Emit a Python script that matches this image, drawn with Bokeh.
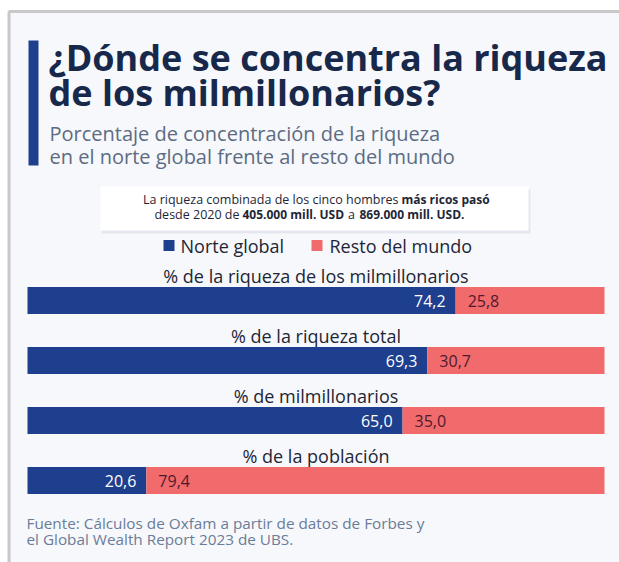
from bokeh.plotting import figure
from bokeh.models import Range1d, ColumnDataSource
from bokeh.core.properties import value
from bokeh.embed import file_html
from bokeh.resources import INLINE

# ---------------- data ----------------
categories = [
    "% de la riqueza de los milmillonarios",
    "% de la riqueza total",
    "% de milmillonarios",
    "% de la población",
]
norte_global = [74.2, 69.3, 65.0, 20.6]
resto_mundo = [25.8, 30.7, 35.0, 79.4]
series_names = ["Norte global", "Resto del mundo"]

title_lines = ["¿Dónde se concentra la riqueza", "de los milmillonarios?"]
subtitle_lines = [
    "Porcentaje de concentración de la riqueza",
    "en el norte global frente al resto del mundo",
]
note_line1 = ["La riqueza combinada de los cinco hombres", "más ricos pasó"]
note_line2 = ["desde 2020 de", "405.000 mill. USD", "a", "869.000 mill. USD."]
source_lines = [
    "Fuente: Cálculos de Oxfam a partir de datos de Forbes y",
    "el Global Wealth Report 2023 de UBS.",
]

# ---------------- style ----------------
BLUE = "#1e3e8e"
RED = "#f16b6c"
TITLE_C = "#17284a"
SUB_C = "#5d6b82"
TEXT_C = "#1e2636"
SRC_C = "#6b7c98"
BG = "#f6f8fb"
FONT = value("Open Sans")

W, H = 619, 562
PX_PER_UNIT = 5.77
X0 = 27


def X(px):
    return (px - X0) / PX_PER_UNIT


p = figure(
    width=W, height=H,
    x_range=Range1d(X(0), X(W)), y_range=Range1d(H, 0),
    output_backend="svg", toolbar_location=None,
    x_axis_location=None, y_axis_location=None, min_border=0,
)
p.grid.visible = False
p.outline_line_color = None
p.background_fill_color = "white"
p.border_fill_color = "white"

# frame
p.quad(left=[X(8)], right=[X(W)], top=[11], bottom=[H], fill_color=BG, line_color=None)
p.segment(x0=[X(8)], y0=[11], x1=[X(W)], y1=[11], line_color="#c8c8c8", line_width=3)
p.segment(x0=[X(8.5)], y0=[11], x1=[X(8.5)], y1=[H], line_color="#c8c8c8", line_width=3)

# accent bar
p.quad(left=[X(28)], right=[X(38)], top=[40], bottom=[165], fill_color=BLUE, line_color=None)

# title / subtitle
p.text(x=[X(48)] * 2, y=[57, 92], text=title_lines, text_font=FONT,
       text_font_size="36px", text_font_style="bold", text_color=TITLE_C,
       text_baseline="middle", text_align="left")
p.text(x=[X(49)] * 2, y=[133, 156], text=subtitle_lines, text_font=FONT,
       text_font_size="20px", text_color=SUB_C,
       text_baseline="middle", text_align="left")

# note box
p.quad(left=[X(101)], right=[X(530)], top=[189], bottom=[233], fill_color="#e4e8ee",
       line_color=None)
p.quad(left=[X(100)], right=[X(528)], top=[186], bottom=[230], fill_color="white",
       line_color=None)
REG_SIZE = "12.5px"
BOLD_SIZE = "12px"
p.text(x=[X(398)], y=[199], text=[note_line1[0]], text_font=FONT, text_font_size=REG_SIZE,
       text_color=TEXT_C, text_baseline="middle", text_align="right")
p.text(x=[X(401)], y=[199], text=[note_line1[1]], text_font=FONT, text_font_size=BOLD_SIZE,
       text_font_style="bold", text_color=TEXT_C, text_baseline="middle", text_align="left")
p.text(x=[X(239)], y=[214], text=[note_line2[0]], text_font=FONT, text_font_size=REG_SIZE,
       text_color=TEXT_C, text_baseline="middle", text_align="right")
p.text(x=[X(242), X(359)], y=[214, 214], text=[note_line2[1], note_line2[3]], text_font=FONT,
       text_font_size=BOLD_SIZE, text_font_style="bold", text_color=TEXT_C,
       text_baseline="middle", text_align="left")
p.text(x=[X(351)], y=[214], text=[note_line2[2]], text_font=FONT, text_font_size=REG_SIZE,
       text_color=TEXT_C, text_baseline="middle", text_align="center")

# legend
p.quad(left=[X(163), X(311)], right=[X(174), X(322)], top=[239.5, 239.5], bottom=[250.5, 250.5],
       fill_color=[BLUE, RED], line_color=None)
p.text(x=[X(180), X(329)], y=[245, 245], text=series_names, text_font=FONT,
       text_font_size="18px", text_color=TEXT_C, text_baseline="middle", text_align="left")

# bars
bar_y = [300 + 60 * i for i in range(len(categories))]
totals = [n + r for n, r in zip(norte_global, resto_mundo)]
src = ColumnDataSource(dict(
    y=bar_y, cat=categories, north=norte_global, rest=resto_mundo, total=totals,
    lab_y=[y - 25 for y in bar_y],
    north_txt=[f"{v:.1f}".replace(".", ",") for v in norte_global],
    rest_txt=[f"{v:.1f}".replace(".", ",") for v in resto_mundo],
    mid=[50] * len(categories),
))
p.hbar(y="y", left=0, right="north", height=27, fill_color=BLUE, line_color=None, source=src)
p.hbar(y="y", left="north", right="total", height=27, fill_color=RED, line_color=None, source=src)
p.text(x="mid", y="lab_y", text="cat", source=src, text_font=FONT, text_font_size="18px",
       text_color=TEXT_C, text_baseline="middle", text_align="center")
p.text(x="north", y="y", text="north_txt", source=src, x_offset=-10, text_font=FONT,
       text_font_size="16px", text_color="white", text_baseline="middle", text_align="right")
p.text(x="north", y="y", text="rest_txt", source=src, x_offset=12, text_font=FONT,
       text_font_size="16px", text_color="#4f1a2c", text_baseline="middle", text_align="left")

# source
p.text(x=[X(26)] * 2, y=[522, 538], text=source_lines, text_font=FONT,
       text_font_size="15.3px", text_color=SRC_C, text_baseline="middle", text_align="left")

open("out.html", "w").write(file_html(p, INLINE))
